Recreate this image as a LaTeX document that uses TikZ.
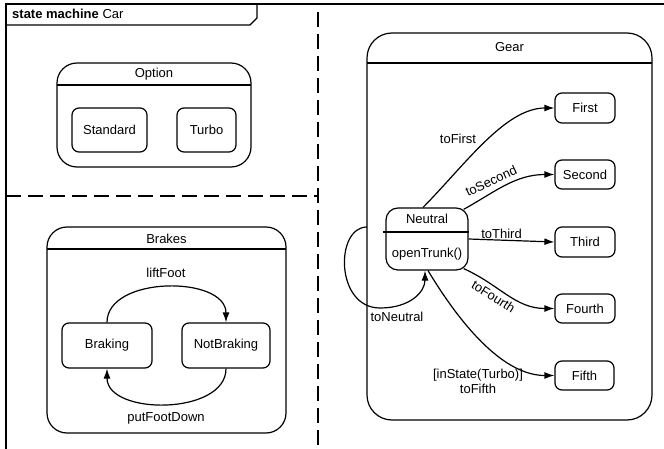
\documentclass[tikz,border=0pt]{standalone}
\usepackage{fontspec}
\setmainfont{Liberation Sans}
\usetikzlibrary{arrows.meta}
\begin{document}
\begin{tikzpicture}[x=1pt,y=-1pt,
  every node/.style={font=\fontsize{13}{15}\selectfont, inner sep=0pt},
  comp/.style={draw, line width=1.2pt, rounded corners=20pt},
  st/.style={draw, line width=1.2pt, rounded corners=7pt},
  tr/.style={line width=1.2pt, -{Latex[length=10pt,width=7pt]}},
  hdr/.style={line width=1.2pt},
  sep/.style={line width=1.2pt, dash pattern=on 15pt off 7pt}]
\useasboundingbox (0,0) rectangle (664,449);
% frame
\draw[line width=1.2pt] (6,452) -- (6,4) -- (666,4);
\draw[line width=1.2pt] (6,25) -- (250,25) -- (257,18) -- (257,4);
\node[anchor=base west] (title) at (12,18.5) {\textbf{state machine} Car};
% separators
\draw[sep] (318,12) -- (318,452);
\draw[sep] (6,196) -- (318,196);
% Option
\node[comp, minimum width=194pt, minimum height=104pt] (option) at (154,115) {};
\draw[hdr] (57,85) -- (251,85);
\node (optionlbl) at (154,74) {Option};
\node[st, minimum width=75pt, minimum height=44pt] (standard) at (109.5,130) {Standard};
\node[st, minimum width=59pt, minimum height=44pt] (turbo) at (206.5,130) {Turbo};
% Brakes
\node[comp, minimum width=239pt, minimum height=206pt] (brakes) at (166.5,330) {};
\draw[hdr] (47,249) -- (286,249);
\node (brakeslbl) at (166.5,239) {Brakes};
\node[st, minimum width=90pt, minimum height=45pt] (braking) at (107,345.5) {Braking};
\node[st, minimum width=88pt, minimum height=45pt] (notbraking) at (226,345.5) {NotBraking};
\draw[tr] (braking.north) .. controls +(0,-47) and +(0,-47) .. (notbraking.north);
\draw[tr] (notbraking.south) .. controls +(0,47) and +(0,47) .. (braking.south);
\node (liftlbl) at (166,273) {liftFoot};
\node (putlbl) at (166,418) {putFootDown};
% Gear
\node[comp, rounded corners=25pt, minimum width=285pt, minimum height=387pt] (gear) at (509.5,226.5) {};
\draw[hdr] (367,63) -- (652,63);
\node (gearlbl) at (509.5,47) {Gear};
\node[st, minimum width=60pt, minimum height=30pt] (first) at (585,108) {First};
\node[st, minimum width=60pt, minimum height=29pt] (second) at (585,174.5) {Second};
\node[st, minimum width=60pt, minimum height=30pt] (third) at (585,242) {Third};
\node[st, minimum width=60pt, minimum height=29pt] (fourth) at (585,308.5) {Fourth};
\node[st, minimum width=59pt, minimum height=29pt] (fifth) at (584.5,375.5) {Fifth};
\node[st, rounded corners=12pt, minimum width=82pt, minimum height=62pt] (neutral) at (427,239) {};
\draw[hdr] (383,232) -- (469,232);
\node (neutrallbl) at (427,219) {Neutral};
\node (trunklbl) at (427,254) {openTrunk()};
% transitions
\draw[tr] ([xshift=-4pt]neutral.north) .. controls (465,165) and (505,108) .. (first.west);
\draw[tr] ([shift={(-5,2)}]neutral.north east) .. controls (495,192) and (515,174.5) .. (second.west);
\draw[tr] (neutral.east) -- (third.west);
\draw[tr] ([shift={(-5,-2)}]neutral.south east) .. controls (500,285) and (515,308.5) .. (fourth.west);
\draw[tr] ([xshift=1pt]neutral.south) .. controls (470,340) and (510,375.5) .. (fifth.west);
\coordinate (loopstart) at (367,227);
\draw[tr] (loopstart) .. controls (335,227) and (335,308) .. (380,308) .. controls (410,308) and (425,292) .. ([xshift=-2pt]neutral.south);
\node (firstlbl) at (458,139) {toFirst};
\node[rotate=25] (secondlbl) at (491,181) {toSecond};
\node (thirdlbl) at (501.5,234) {toThird};
\node[rotate=-32] (fourthlbl) at (493.5,296.5) {toFourth};
\node[align=center] (fifthlbl) at (478,381.5) {[inState(Turbo)]\\toFifth};
\node (neutlbl) at (397,317) {toNeutral};
\end{tikzpicture}
\end{document}
